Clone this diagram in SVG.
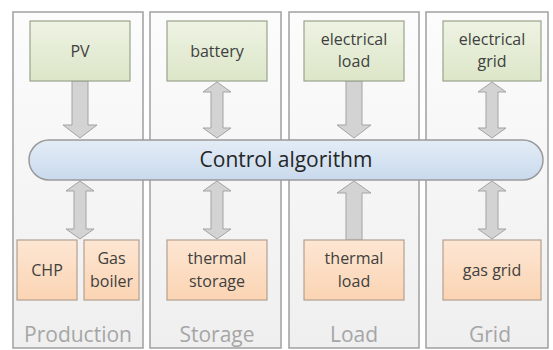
<svg xmlns="http://www.w3.org/2000/svg" width="553" height="350" viewBox="0 0 553 350">
<defs>
<linearGradient id="gPanel" x1="0" y1="0" x2="0" y2="1"><stop offset="0" stop-color="#fcfcfc"/><stop offset="1" stop-color="#efefef"/></linearGradient>
<linearGradient id="gGreen" x1="0" y1="0" x2="0" y2="1"><stop offset="0" stop-color="#eef3e3"/><stop offset="1" stop-color="#dce6c8"/></linearGradient>
<linearGradient id="gPeach" x1="0" y1="0" x2="0" y2="1"><stop offset="0" stop-color="#fde6d3"/><stop offset="1" stop-color="#fbd4b3"/></linearGradient>
<linearGradient id="gBlue" x1="0" y1="0" x2="0" y2="1"><stop offset="0" stop-color="#e3ecf6"/><stop offset="1" stop-color="#c9daed"/></linearGradient>
</defs>
<style>
.panel{fill:url(#gPanel);stroke:#a6a6a6;stroke-width:1.6}
.top{fill:url(#gGreen);stroke:#9aa38c;stroke-width:1.2}
.bot{fill:url(#gPeach);stroke:#b3a090;stroke-width:1.2}
.bar{fill:url(#gBlue);stroke:#9a9a9a;stroke-width:1.5}
.arr{fill:#d3d3d3;stroke:#a3a3a3;stroke-width:1}
.t{font-family:"Open Sans","Noto Sans",sans-serif;font-size:16px;fill:#404040;text-anchor:middle}
.ctl{font-family:"Open Sans","Noto Sans",sans-serif;font-size:21px;fill:#262626;text-anchor:middle}
.lab{font-family:"Open Sans","Noto Sans",sans-serif;font-size:21px;fill:#a6a6a6;text-anchor:middle}
</style>
<rect width="553" height="350" fill="#ffffff"/>
<g id="panels">
<g id="panel-production"><rect class="panel" x="13" y="12" width="130" height="336"/><text class="lab" x="78" y="342">Production</text></g>
<g id="panel-storage"><rect class="panel" x="150" y="12" width="131" height="336"/><text class="lab" x="217" y="342">Storage</text></g>
<g id="panel-load"><rect class="panel" x="289" y="12" width="130" height="336"/><text class="lab" x="354" y="342">Load</text></g>
<g id="panel-grid"><rect class="panel" x="426" y="12" width="122" height="336"/><text class="lab" x="490" y="342">Grid</text></g>
</g>
<g id="connectors">
<path class="arr" d="M72,81 H88 V125 H97 L80,138 L63,125 H72 Z"/>
<path class="arr" d="M217,82 L231,92 H223 V128 H231 L217,138 L203,128 H211 V92 H203 Z"/>
<path class="arr" d="M346,81 H362 V125 H371 L354,138 L337,125 H346 Z"/>
<path class="arr" d="M492,82 L506,92 H498 V128 H506 L492,138 L478,128 H486 V92 H478 Z"/>
<path class="arr" d="M80,181 L94,191 H86 V229 H94 L80,239 L66,229 H74 V191 H66 Z"/>
<path class="arr" d="M217,181 L231,191 H223 V229 H231 L217,239 L203,229 H211 V191 H203 Z"/>
<path class="arr" d="M346,240 V193 H337 L354,181 L371,193 H362 V240 Z"/>
<path class="arr" d="M492,181 L506,191 H498 V229 H506 L492,239 L478,229 H486 V191 H478 Z"/>
</g>
<g id="control"><rect class="bar" x="29" y="140" width="514" height="40" rx="20" ry="20"/><text class="ctl" x="286" y="167">Control algorithm</text></g>
<g id="pv"><rect class="top" x="30" y="21" width="100" height="60"/><text class="t" x="80" y="57">PV</text></g>
<g id="battery"><rect class="top" x="167" y="21" width="100" height="60"/><text class="t" x="217" y="57">battery</text></g>
<g id="electrical-load"><rect class="top" x="304" y="21" width="100" height="60"/><text class="t" x="354" y="45">electrical</text><text class="t" x="354" y="67">load</text></g>
<g id="electrical-grid"><rect class="top" x="443" y="21" width="98" height="60"/><text class="t" x="492" y="45">electrical</text><text class="t" x="492" y="67">grid</text></g>
<g id="chp"><rect class="bot" x="17" y="240" width="60" height="60"/><text class="t" x="47" y="276">CHP</text></g>
<g id="gas-boiler"><rect class="bot" x="84" y="240" width="55" height="60"/><text class="t" x="111.5" y="264">Gas</text><text class="t" x="111.5" y="287">boiler</text></g>
<g id="thermal-storage"><rect class="bot" x="167" y="240" width="100" height="60"/><text class="t" x="217" y="264">thermal</text><text class="t" x="217" y="287">storage</text></g>
<g id="thermal-load"><rect class="bot" x="304" y="240" width="100" height="60"/><text class="t" x="354" y="264">thermal</text><text class="t" x="354" y="287">load</text></g>
<g id="gas-grid"><rect class="bot" x="443" y="240" width="98" height="60"/><text class="t" x="492" y="276">gas grid</text></g>
</svg>
